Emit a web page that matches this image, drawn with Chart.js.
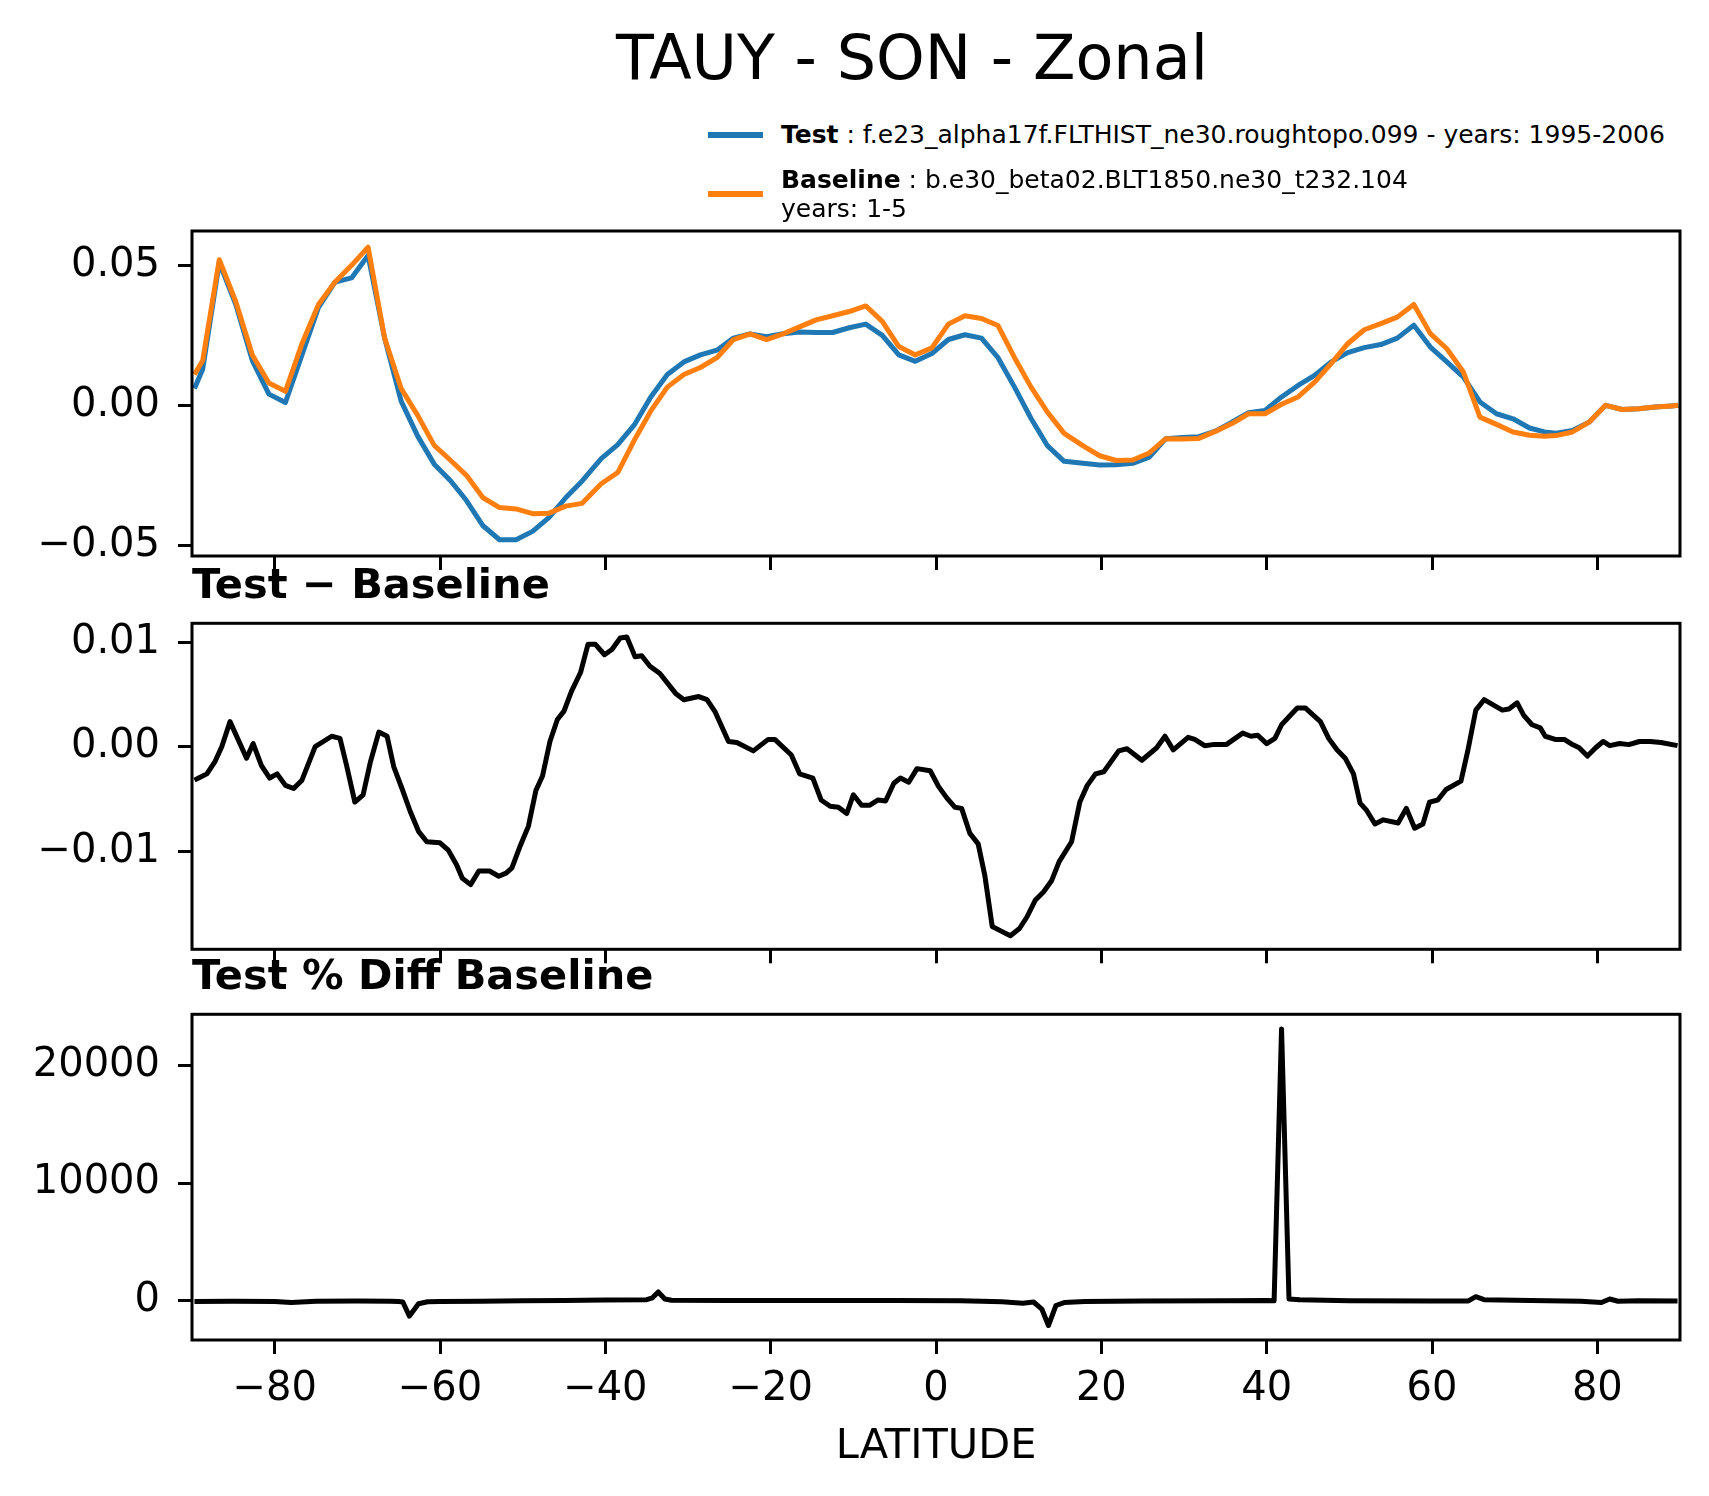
<!DOCTYPE html>
<html>
<head>
<meta charset="utf-8">
<title>TAUY - SON - Zonal</title>
<script src="https://cdn.jsdelivr.net/npm/chart.js@4.4.1/dist/chart.umd.min.js"></script>
<style>
  html, body { margin: 0; padding: 0; background: #fff; }
  body { position: relative; width: 1709px; height: 1496px; overflow: hidden;
         font-family: 'DejaVu Sans', sans-serif; color: #000; }
  canvas { position: absolute; left: 0; }
  .txt { position: absolute; white-space: nowrap; line-height: 1; z-index: 2; }
  .suptitle { font-size: 62px; left: 912px; top: 27px; transform: translateX(-50%); }
  .axtitle { font-size: 41.5px; font-weight: bold; left: 192px; }
  .leg { font-size: 25px; left: 781px; }
  .handle { position: absolute; left: 708px; width: 55px; height: 5.5px; }
</style>
</head>
<body>

<div class="txt suptitle">TAUY - SON - Zonal</div>

<div class="handle" style="top:132px; background:#1f77b4"></div>
<div class="txt leg" style="top:122px"><b>Test</b> : f.e23_alpha17f.FLTHIST_ne30.roughtopo.099 - years: 1995-2006</div>
<div class="handle" style="top:191px; background:#ff7f0e"></div>
<div class="txt leg" style="top:165px; line-height:29px"><b>Baseline</b> : b.e30_beta02.BLT1850.ne30_t232.104<br>years: 1-5</div>

<div class="txt axtitle" style="top:563px">Test − Baseline</div>
<div class="txt axtitle" style="top:954px">Test % Diff Baseline</div>

<canvas id="tauyCanvas" width="1709" height="390" style="top:200px"></canvas>
<canvas id="diffCanvas" width="1709" height="385" style="top:600px"></canvas>
<canvas id="pctCanvas" width="1709" height="506" style="top:990px"></canvas>

<script>
// latitude samples for the test / baseline zonal means
const latitude = [
    -89.7, -88.7, -86.7, -84.7, -82.7, -80.7, -78.7, -76.7, -74.7, -72.7, -70.7, -68.7, -66.7, -64.7, -62.7, -60.7, -58.7,
    -56.8, -54.8, -52.8, -50.8, -48.8, -46.8, -44.8, -42.8,
    -40.5, -38.5, -36.5, -34.5, -32.5, -30.5, -28.5, -26.5, -24.5, -22.5, -20.5, -18.5, -16.5, -14.5, -12.5,
    -10.5, -8.5, -6.5, -4.5, -2.5, -0.5, 1.5, 3.5, 5.5, 7.5, 9.5, 11.5, 13.5, 15.5,
    17.8, 19.8, 21.8, 23.8, 25.8, 27.8, 29.8, 31.8, 33.8, 35.8, 37.8, 39.8, 41.8, 43.8,
    45.8, 47.8, 49.8, 51.8, 53.8, 55.8, 57.8, 59.8, 61.8, 63.8, 65.8, 67.8, 69.8, 71.8,
    73.6, 75, 77, 79, 81, 83, 85, 87, 89, 89.8
];
const testTauy = [
    0.006, 0.013, 0.051, 0.036, 0.016, 0.004, 0.001, 0.018, 0.035, 0.044, 0.0455, 0.0535, 0.024, 0.0015, -0.011, -0.021, -0.027,
    -0.034, -0.043, -0.048, -0.048, -0.045, -0.040, -0.033, -0.027,
    -0.019, -0.014, -0.007, 0.003, 0.011, 0.0155, 0.018, 0.0197, 0.024, 0.0255, 0.0245, 0.0256, 0.0262, 0.026, 0.026,
    0.0277, 0.029, 0.025, 0.018, 0.0157, 0.0185, 0.0235, 0.0252, 0.024, 0.017, 0.0065, -0.0047, -0.0145, -0.020,
    -0.0207, -0.0213, -0.0212, -0.0207, -0.0185, -0.0119, -0.0115, -0.0112, -0.0092, -0.006, -0.0026, -0.0018, 0.003, 0.0071,
    0.0107, 0.0155, 0.0188, 0.0206, 0.0217, 0.024, 0.0286, 0.0208, 0.0155, 0.0101, 0.0012, -0.003, -0.0048, -0.0081,
    -0.0095, -0.010, -0.009, -0.006, 0.000, -0.0015, -0.0012, -0.0006, -0.0002, 0.0
];
const baselineTauy = [
    0.011, 0.016, 0.052, 0.037, 0.018, 0.008, 0.005, 0.022, 0.036, 0.044, 0.050, 0.0565, 0.024, 0.006, -0.0036, -0.0143, -0.0197,
    -0.025, -0.033, -0.0365, -0.037, -0.0387, -0.0385, -0.036, -0.035,
    -0.028, -0.024, -0.0125, -0.002, 0.0065, 0.011, 0.0135, 0.017, 0.0235, 0.0255, 0.0235, 0.0255, 0.028, 0.0305, 0.032,
    0.0335, 0.0355, 0.030, 0.021, 0.018, 0.0205, 0.029, 0.032, 0.031, 0.0285, 0.017, 0.0065, -0.0025, -0.010,
    -0.0145, -0.018, -0.0197, -0.0195, -0.017, -0.0119, -0.012, -0.0118, -0.0093, -0.0065, -0.003, -0.003, 0.0004, 0.003,
    0.0083, 0.0149, 0.022, 0.027, 0.0292, 0.0315, 0.036, 0.0256, 0.0202, 0.0119, -0.0042, -0.0068, -0.0095, -0.0107,
    -0.011, -0.0108, -0.0095, -0.006, 0.000, -0.0015, -0.0012, -0.0006, -0.0002, 0.0
];

// Test - Baseline
const diffLatitude = [
    -89.7, -89.2, -88.2, -87.2, -86.4, -85.4, -83.4, -82.6, -81.6, -80.6,
    -79.7, -78.7, -77.7, -76.7, -75.1, -73.1, -72.1, -71.3, -70.3, -69.3,
    -68.4, -67.4, -66.4, -65.6, -64.6, -63.6, -62.6, -61.6, -60.0, -59.0, -58.0,
    -57.3, -56.3, -55.3, -54.0, -52.9, -52.0, -51.3, -50.3, -49.3, -48.4,
    -47.6, -46.7, -45.8, -45.0, -44.1, -43.0, -42.1, -41.2, -40.1, -39.2,
    -38.2, -37.4, -36.4, -35.6, -34.6, -33.4, -31.5, -30.5, -28.7, -27.7,
    -26.7, -25.1, -24.1, -22.1, -20.3, -19.5, -17.5, -16.5, -14.9, -13.9,
    -12.8, -11.8, -10.8, -10.0, -9.0, -8.0, -7.0, -6.1, -5.1, -4.3,
    -3.3, -2.3, -0.7, 0.3, 1.3, 2.3, 3.1, 4.1, 5.1, 5.9,
    6.8, 8.0, 9.0, 10.1, 11.0, 12.0, 13.0, 14.0, 14.9,
    16.4, 17.4, 18.3, 19.3, 20.3, 22.1, 23.1, 24.9, 26.7, 27.7,
    28.7, 30.5, 31.3, 32.5, 33.5, 35.1, 37.1, 38.1, 38.9, 40.0,
    41.0, 41.8, 43.7, 44.7, 46.5, 47.5, 48.5, 49.5, 50.5, 51.3,
    52.1, 53.1, 54.1, 55.9, 56.9, 57.9, 58.9, 59.7, 60.7, 61.7,
    63.5, 64.3, 65.3, 66.3, 67.4, 68.5, 69.3, 70.3, 71.1, 72.1,
    73.1, 73.7,
    74.9, 76.0, 77.0, 77.8, 78.8, 79.8, 80.7, 81.5, 82.7, 83.8,
    85.1, 86.4, 87.7, 89.7
];
const diffTauy = [
    -0.0032, -0.0030, -0.0026, -0.0014, 0.0000, 0.0024, -0.0011, 0.0003, -0.0018, -0.0030,
    -0.0026, -0.0037, -0.0040, -0.0032, 0.0000, 0.0010, 0.0008, -0.0018, -0.0053, -0.0046,
    -0.0014, 0.0014, 0.0010, -0.0019, -0.0040, -0.0062, -0.0081, -0.0091, -0.0092, -0.0099, -0.0113,
    -0.0126, -0.0132, -0.0119, -0.0119, -0.0124, -0.0121, -0.0116, -0.0095, -0.0076, -0.0042,
    -0.0028, 0.0005, 0.0026, 0.0034, 0.0053, 0.0071, 0.0098, 0.0098, 0.0088, 0.0093,
    0.0104, 0.0105, 0.0086, 0.0087, 0.0077, 0.0070, 0.0051, 0.0045, 0.0048, 0.0045,
    0.0033, 0.0005, 0.0004, -0.0004, 0.0007, 0.0007, -0.0008, -0.0026, -0.0030, -0.0051,
    -0.0057, -0.0058, -0.0064, -0.0046, -0.0056, -0.0056, -0.0051, -0.0052, -0.0035, -0.0030,
    -0.0034, -0.0021, -0.0023, -0.0038, -0.0049, -0.0058, -0.0059, -0.0083, -0.0093, -0.0123,
    -0.0172, -0.0177, -0.0181, -0.0174, -0.0163, -0.0147, -0.0139, -0.0128, -0.0110,
    -0.0091, -0.0053, -0.0037, -0.0026, -0.0024, -0.0004, -0.0002, -0.0013, -0.0001, 0.0010,
    -0.0003, 0.0009, 0.0007, 0.0001, 0.0002, 0.0002, 0.0013, 0.0010, 0.0011, 0.0003,
    0.0008, 0.0021, 0.0037, 0.0037, 0.0024, 0.0008, -0.0003, -0.0011, -0.0026, -0.0054,
    -0.0061, -0.0074, -0.0070, -0.0073, -0.0059, -0.0078, -0.0074, -0.0053, -0.0051, -0.0041,
    -0.0033, -0.0005, 0.0035, 0.0045, 0.0040, 0.0035, 0.0036, 0.0042, 0.0030, 0.0021,
    0.0018, 0.0010,
    0.0007, 0.0007, 0.0002, -0.0001, -0.0009, -0.0001, 0.0005, 0.0001, 0.0003, 0.0002,
    0.0005, 0.0005, 0.0004, 0.0001
];

// Test % Diff Baseline
const pctLatitude = [
    -89.7, -85, -80, -78, -75, -70, -66, -65, -64.5, -63.7, -62.6, -61.5, -60, -55, -50, -45, -40,
    -35, -34.3, -33.6, -32.8, -32, -25, -15, -5, 3, 8, 10.5, 11.8, 12.8, 13.6, 14.5, 15.5, 18, 25,
    35, 40, 40.9, 41.8, 42.7, 44, 50, 60, 64.4, 65.3, 66.3, 70, 78, 80.5, 81.5, 82.5, 85, 89.7
];
const pctDiff = [
    -50, -40, -60, -150, -30, -20, -30, -60, -100, -1300, -250, -80, -50, -30, 0, 30, 60,
    100, 250, 750, 150, 50, 30, 30, 20, 0, -80, -200, -100, -700, -2100, -400, -150, -50, -20,
    0, 30, 0, 23100, 150, 80, 0, -20, -10, 350, 100, 50, -30, -150, 150, -40, 0, -20
];

const xTicks = [-80, -60, -40, -20, 0, 20, 40, 60, 80];
const xTickLabels = ['−80', '−60', '−40', '−20', '0', '20', '40', '60', '80'];
const tauyTicks = [-0.05, 0, 0.05];
const tauyTickLabels = ['−0.05', '0.00', '0.05'];
const diffTicks = [-0.01, 0, 0.01];
const diffTickLabels = ['−0.01', '0.00', '0.01'];
const pctTicks = [0, 10000, 20000];
const pctTickLabels = ['0', '10000', '20000'];

Chart.defaults.font.family = "'DejaVu Sans', sans-serif";
Chart.defaults.color = '#000';

// matplotlib-like box around each axes
const framePlugin = {
    id: 'frame',
    afterDraw(chart) {
        const { ctx, chartArea: a } = chart;
        ctx.save();
        ctx.strokeStyle = '#000';
        ctx.lineWidth = 3;
        ctx.strokeRect(a.left, a.top, a.right - a.left, a.bottom - a.top);
        ctx.restore();
    }
};

const tickGrid = {
    drawOnChartArea: false,
    drawTicks: true,
    tickLength: 14,
    tickWidth: 3,
    tickColor: '#000',
};

function series(xs, ys, color, order) {
    return {
        data: xs.map((x, i) => ({ x: x, y: ys[i] })),
        borderColor: color,
        borderWidth: 5,
        borderJoinStyle: 'round',
        pointRadius: 0,
        tension: 0,
        fill: false,
        order: order,
    };
}

function makePanel(id, datasets, p) {
    return new Chart(document.getElementById(id), {
        type: 'line',
        data: { datasets: datasets },
        plugins: [framePlugin],
        options: {
            responsive: false,
            devicePixelRatio: 1,
            animation: false,
            events: [],
            layout: { padding: { left: 0, right: 29, top: p.padTop, bottom: 0 } },
            plugins: { legend: { display: false }, tooltip: { enabled: false } },
            scales: {
                x: {
                    type: 'linear',
                    min: -90,
                    max: 90,
                    afterBuildTicks: s => { s.ticks = xTicks.map(v => ({ value: v })); },
                    afterFit: s => {
                        s.height = p.xHeight;
                        s.paddingLeft = 0;
                        s.paddingRight = 0;
                    },
                    ticks: {
                        display: p.xLabels,
                        autoSkip: false,
                        maxRotation: 0,
                        padding: 12,
                        font: { size: 40 },
                        callback: (v, i) => xTickLabels[i],
                    },
                    grid: tickGrid,
                    border: { display: false },
                    title: {
                        display: p.xLabels,
                        text: 'LATITUDE',
                        font: { size: 41.5 },
                        padding: { top: 0, bottom: 24 },
                    },
                },
                y: {
                    type: 'linear',
                    min: p.yMin,
                    max: p.yMax,
                    afterBuildTicks: s => { s.ticks = p.yTicks.map(v => ({ value: v })); },
                    afterFit: s => {
                        s.width = 192;
                        s.paddingTop = 0;
                        s.paddingBottom = 0;
                    },
                    ticks: {
                        padding: 18,
                        font: { size: 40 },
                        callback: (v, i) => p.yLabels[i],
                    },
                    grid: tickGrid,
                    border: { display: false },
                },
            },
        },
    });
}

makePanel('tauyCanvas', [
    series(latitude, baselineTauy, '#ff7f0e', 0),
    series(latitude, testTauy, '#1f77b4', 1),
], { padTop: 31, xHeight: 34, xLabels: false, yMin: -0.0538, yMax: 0.06225,
     yTicks: tauyTicks, yLabels: tauyTickLabels });

makePanel('diffCanvas', [
    series(diffLatitude, diffTauy, '#000000', 0),
], { padTop: 23.3, xHeight: 35.7, xLabels: false, yMin: -0.01939, yMax: 0.01181,
     yTicks: diffTicks, yLabels: diffTickLabels });

makePanel('pctCanvas', [
    series(pctLatitude, pctDiff, '#000000', 0),
], { padTop: 24.3, xHeight: 156, xLabels: true, yMin: -3330, yMax: 24340,
     yTicks: pctTicks, yLabels: pctTickLabels });
</script>
</body>
</html>
